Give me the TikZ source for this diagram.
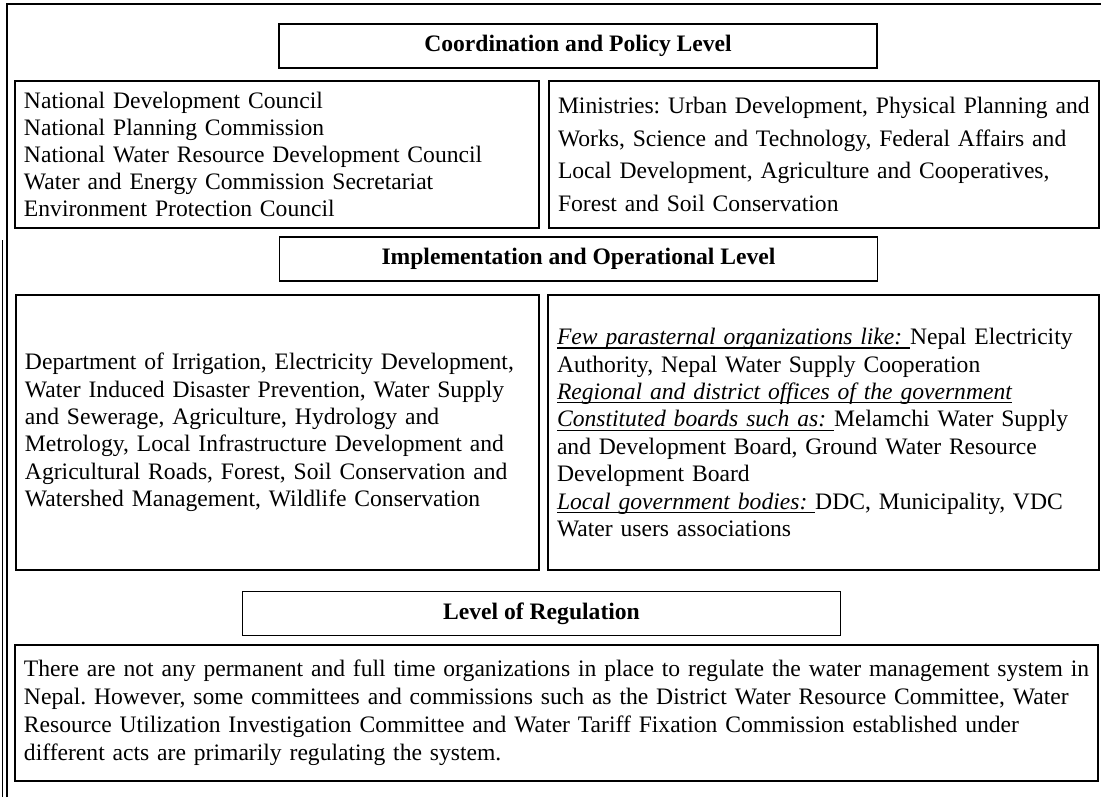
\documentclass[tikz,border=0pt]{standalone}
\usepackage{fontspec}
\setmainfont{Liberation Serif}
\usetikzlibrary{positioning}
\newcommand{\undertext}[1]{\leavevmode\setbox0=\hbox{#1}\rlap{\rule[-2pt]{\wd0}{0.6pt}}\box0}

\begin{document}
\begin{tikzpicture}[x=0.5pt,y=-0.5pt,
    box/.style={draw, line width=0.8pt, inner ysep=0pt, inner xsep=4.5pt, outer sep=0pt},
    head/.style={box, minimum width=299pt, minimum height=22pt, font=\fontsize{11.8}{14}\selectfont\bfseries},
    body/.style={box, align=left, anchor=north west, execute at begin node={\frenchspacing\hyphenpenalty=10000\hfuzz=20pt}}]
    \useasboundingbox (0,0) rectangle (1101,797);

    % outer frame
    \draw[line width=0.8pt] (7,797) -- (7,4) -- (1101,4);
    \draw[line width=0.5pt] (2,240) -- (2,797);

    % coordination and policy level
    \node[head] (coord) at (578,46) {Coordination and Policy Level};
    \node[body, text width=253pt, minimum height=73.5pt, font=\fontsize{11.8}{13.5}\selectfont] (council) at (15,81)
        {National Development Council\\
         National Planning Commission\\
         National Water Resource Development Council\\
         Water and Energy Commission Secretariat\\
         Environment Protection Council};
    \node[body, text width=266pt, minimum height=73.5pt, font=\fontsize{11.8}{16.25}\selectfont] (ministry) at (549,81)
        {\mbox{Ministries: Urban Development, Physical Planning and}\\
         Works, Science and Technology, Federal Affairs and\\
         Local Development, Agriculture and Cooperatives,\\
         Forest and Soil Conservation};

    % implementation and operational level
    \node[head] (impl) at (578.5,259) {Implementation and Operational Level};
    \node[body, text width=252.5pt, minimum height=137.5pt, font=\fontsize{11.8}{13.7}\selectfont] (dept) at (16,295)
        {Department of Irrigation, Electricity Development,\\
         Water Induced Disaster Prevention, Water Supply\\
         and Sewerage, Agriculture, Hydrology and\\
         Metrology, Local Infrastructure Development and\\
         Agricultural Roads, Forest, Soil Conservation and\\
         Watershed Management, Wildlife Conservation};
    \node[body, text width=266.5pt, minimum height=137.5pt, font=\fontsize{11.8}{13.7}\selectfont] (para) at (548,295)
        {\undertext{\textit{Few parasternal organizations like:}\ }Nepal Electricity\\
         Authority, Nepal Water Supply Cooperation\\
         \undertext{\textit{Regional and district offices of the government}}\\
         \undertext{\textit{Constituted boards such as:}\ }Melamchi Water Supply\\
         and Development Board, Ground Water Resource\\
         Development Board\\
         \undertext{\textit{Local government bodies:}\ }DDC, Municipality, VDC\\
         Water users associations};

    % level of regulation
    \node[head] (reg) at (541.5,613.5) {Level of Regulation};
    \node[body, text width=532.5pt, minimum height=68pt, font=\fontsize{11.8}{14}\selectfont] (regtext) at (15,645)
        {\mbox{There are not any permanent and full time organizations in place to regulate the water management system in}\\
         Nepal. However, some committees and commissions such as the District Water Resource Committee, Water\\
         Resource Utilization Investigation Committee and Water Tariff Fixation Commission established under\\
         different acts are primarily regulating the system.};
\end{tikzpicture}
\end{document}
